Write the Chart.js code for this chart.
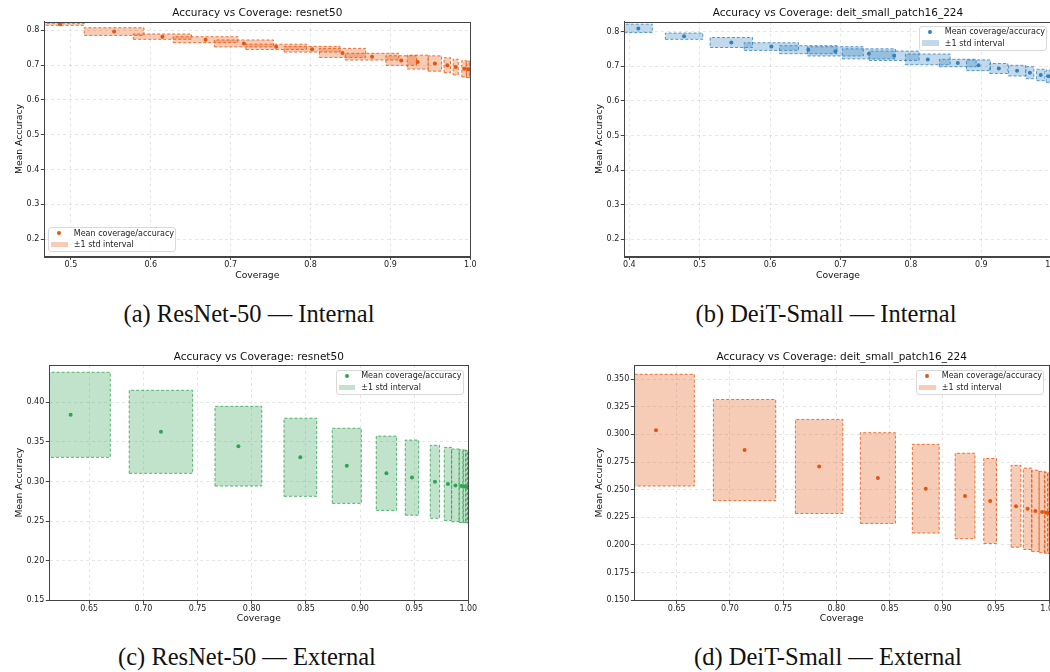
<!DOCTYPE html>
<html><head><meta charset="utf-8">
<script src="https://cdn.jsdelivr.net/npm/chart.js@4.4.1/dist/chart.umd.min.js"></script>
<style>
html,body{margin:0;padding:0;width:1050px;height:672px;overflow:hidden;background:#fff;position:relative;}
canvas{position:absolute;}
.cap{position:absolute;font-family:"Liberation Serif","Times New Roman",serif;font-size:24.5px;white-space:nowrap;transform:translate(-50%,-50%);color:#111;line-height:1;}
.leg{position:absolute;border:1px solid #d9d9d9;border-radius:3px;background:rgba(255,255,255,0.85);box-sizing:border-box;}
.lt{position:absolute;font-family:"DejaVu Sans",sans-serif;font-size:8px;color:#222;white-space:nowrap;line-height:1;transform:translateY(-50%);}
.ld{position:absolute;width:4px;height:4px;border-radius:50%;transform:translate(-50%,-50%);}
.lp{position:absolute;}
</style></head>
<body>
<script>
// ---------- Data ----------
// (a) ResNet-50 internal
const A_COV    = [0.4863,0.5540,0.6145,0.6685,0.7165,0.7569,0.8019,0.8400,0.8770,0.9135,0.9341,0.9556,0.9712,0.9817,0.9924,0.9973,0.9995];
const A_COV_SD = [0.0304,0.0374,0.0365,0.0405,0.0370,0.0380,0.0350,0.0290,0.0336,0.0192,0.0131,0.0084,0.0040,0.0032,0.0030,0.0025,0.0008];
const A_ACC    = [0.8172,0.7963,0.7817,0.7730,0.7622,0.7525,0.7456,0.7350,0.7242,0.7130,0.7085,0.7045,0.6995,0.6943,0.6894,0.6878,0.6870];
const A_ACC_SD = [0.0030,0.0110,0.0077,0.0086,0.0100,0.0076,0.0082,0.0130,0.0097,0.0138,0.0200,0.0220,0.0216,0.0226,0.0234,0.0235,0.0235];
// (b) DeiT-Small internal
const B_COV    = [0.4128,0.4778,0.5449,0.6018,0.6542,0.6928,0.7403,0.7761,0.8240,0.8666,0.8960,0.9249,0.9508,0.9690,0.9844,0.9951,0.9990];
const B_COV_SD = [0.0199,0.0266,0.0301,0.0386,0.0408,0.0396,0.0377,0.0356,0.0318,0.0261,0.0170,0.0128,0.0121,0.0057,0.0059,0.0030,0.0009];
const B_ACC    = [0.8095,0.7870,0.7688,0.7570,0.7480,0.7432,0.7360,0.7305,0.7200,0.7095,0.7030,0.6937,0.6874,0.6815,0.6749,0.6715,0.6710];
const B_ACC_SD = [0.0122,0.0091,0.0145,0.0110,0.0116,0.0134,0.0145,0.0135,0.0155,0.0107,0.0155,0.0145,0.0155,0.0173,0.0165,0.0180,0.0180];
// (c) ResNet-50 external
const C_COV    = [0.6328,0.7162,0.7877,0.8449,0.8878,0.9244,0.9480,0.9692,0.9812,0.9881,0.9935,0.9965,0.9985,0.9997];
const C_COV_SD = [0.0366,0.0293,0.0216,0.0151,0.0134,0.0094,0.0062,0.0043,0.0034,0.0035,0.0020,0.0015,0.0010,0.0003];
const C_ACC    = [0.3842,0.3627,0.3446,0.3306,0.3198,0.3104,0.3049,0.2996,0.2970,0.2951,0.2943,0.2938,0.2935,0.2934];
const C_ACC_SD = [0.0537,0.0524,0.0503,0.0493,0.0474,0.0469,0.0474,0.0461,0.0461,0.0459,0.0460,0.0458,0.0457,0.0457];
// (d) DeiT-Small external
const D_COV    = [0.6305,0.7137,0.7838,0.8390,0.8840,0.9209,0.9445,0.9688,0.9797,0.9870,0.9933,0.9970,0.9993];
const D_COV_SD = [0.0360,0.0293,0.0223,0.0165,0.0126,0.0093,0.0060,0.0046,0.0040,0.0035,0.0027,0.0015,0.0007];
const D_ACC    = [0.3038,0.2858,0.2710,0.2605,0.2509,0.2443,0.2398,0.2350,0.2327,0.2308,0.2298,0.2292,0.2290];
const D_ACC_SD = [0.0505,0.0457,0.0425,0.0410,0.0401,0.0386,0.0384,0.0370,0.0368,0.0368,0.0368,0.0366,0.0366];
// Tick values
const AB_X_TICKS = [0.5,0.6,0.7,0.8,0.9,1.0];
const B_X_TICKS  = [0.4,0.5,0.6,0.7,0.8,0.9,1.0];
const AB_Y_TICKS = [0.2,0.3,0.4,0.5,0.6,0.7,0.8];
const CD_X_TICKS = [0.65,0.70,0.75,0.80,0.85,0.90,0.95,1.00];
const C_Y_TICKS  = [0.15,0.20,0.25,0.30,0.35,0.40];
const D_Y_TICKS  = [0.150,0.175,0.200,0.225,0.250,0.275,0.300,0.325,0.350];
const TITLES = ['Accuracy vs Coverage: resnet50','Accuracy vs Coverage: deit_small_patch16_224'];
const LEGEND_LABELS = ['Mean coverage/accuracy','\u00b11 std interval'];
const CAPTIONS = ['(a) ResNet-50 \u2014 Internal','(b) DeiT-Small \u2014 Internal','(c) ResNet-50 \u2014 External','(d) DeiT-Small \u2014 External'];

// ---------- Styling ----------
const COLORS = {
  orange:{pt:'#e6550d', fill:'rgba(230,85,13,0.3)', edge:'rgba(230,85,13,0.8)'},
  blue:{pt:'#3182bd', fill:'rgba(49,130,189,0.3)', edge:'rgba(49,130,189,0.8)'},
  green:{pt:'#31a354', fill:'rgba(49,163,84,0.3)', edge:'rgba(49,163,84,0.8)'}
};
const FONT = 'DejaVu Sans';
const frame = {
  id:'frame',
  afterDatasetsDraw(chart){
    const a = chart.chartArea, ctx = chart.ctx;
    ctx.save(); ctx.strokeStyle='#444'; ctx.lineWidth=1;
    ctx.strokeRect(Math.round(a.left)+0.5, Math.round(a.top)+0.5, Math.round(a.right-a.left), Math.round(a.bottom-a.top));
    ctx.restore();
  }
};

function makePanel(p){
  const cv = document.createElement('canvas');
  cv.width = p.w; cv.height = p.h;
  cv.style.left = p.left+'px'; cv.style.top = p.top+'px';
  cv.style.width = p.w+'px'; cv.style.height = p.h+'px';
  document.body.appendChild(cv);
  const col = COLORS[p.color];
  const datasets = [{
    data: p.cov.map((c,i)=>({x:c, y:p.acc[i]})),
    showLine:false, pointRadius:2, pointBackgroundColor:col.pt, pointBorderWidth:0, pointHoverRadius:2, clip:0, order:0
  }];
  p.cov.forEach((c,i)=>{
    const s = p.covSd[i], a = p.acc[i], t = p.accSd[i];
    datasets.push({
      data:[{x:c-s,y:a-t},{x:c+s,y:a-t},{x:c+s,y:a+t},{x:c-s,y:a+t},{x:c-s,y:a-t}],
      showLine:true, fill:'shape', backgroundColor:col.fill, borderColor:col.edge,
      borderWidth:1, borderDash:[3,2], pointRadius:0, pointHoverRadius:0, tension:0, clip:0, order:1
    });
  });
  const tickFont = {family:FONT, size:8};
  const labFont = {family:FONT, size:9.2};
  new Chart(cv, {
    type:'scatter',
    data:{datasets},
    options:{
      responsive:false, animation:false, events:[], devicePixelRatio:1,
      layout:{padding:{left:0,right:p.padR,top:0,bottom:0}},
      plugins:{
        legend:{display:false}, tooltip:{enabled:false},
        title:{display:true, text:p.title, fullSize:false, color:'#111',
          font:{family:FONT, size:10.5, weight:'normal'}, padding:{top:p.tTop, bottom:p.tBot}}
      },
      scales:{
        x:{type:'linear', min:p.xmin, max:p.xmax,
          afterBuildTicks:s=>{s.ticks = p.xticks.map(v=>({value:v}));},
          afterFit:s=>{s.height = p.xH;},
          ticks:{font:tickFont, color:'#222', padding:0.5, maxRotation:0, autoSkip:false,
            callback:v=>Number(v).toFixed(p.xDec)},
          grid:{color:'rgba(0,0,0,0.13)', lineWidth:0.8, tickColor:'#444', tickLength:3.5, tickWidth:1},
          border:{display:true, color:'#444', width:1, dash:[3,3]},
          title:{display:true, text:'Coverage', color:'#111', font:labFont, padding:{top:0,bottom:p.xTitlePad}}
        },
        y:{type:'linear', min:p.ymin, max:p.ymax,
          afterBuildTicks:s=>{s.ticks = p.yticks.map(v=>({value:v}));},
          afterFit:s=>{s.width = p.yW;},
          ticks:{font:tickFont, color:'#222', padding:1.5, autoSkip:false,
            callback:v=>Number(v).toFixed(p.yDec)},
          grid:{color:'rgba(0,0,0,0.13)', lineWidth:0.8, tickColor:'#444', tickLength:3.5, tickWidth:1},
          border:{display:true, color:'#444', width:1, dash:[3,3]},
          title:{display:true, text:'Mean Accuracy', color:'#111', font:labFont, padding:{top:14.3,bottom:0}}
        }
      }
    },
    plugins:[frame]
  });
  // legend (matplotlib-style, inside axes)
  const bx = p.leg[0], by = p.leg[1];
  const box = document.createElement('div'); box.className='leg';
  box.style.left=bx+'px'; box.style.top=by+'px'; box.style.width='128px'; box.style.height='25px';
  document.body.appendChild(box);
  const dot = document.createElement('div'); dot.className='ld'; dot.style.background=col.pt;
  dot.style.left=(bx+11)+'px'; dot.style.top=(by+6)+'px'; document.body.appendChild(dot);
  const patch = document.createElement('div'); patch.className='lp';
  patch.style.left=(bx+3)+'px'; patch.style.top=(by+14.5)+'px'; patch.style.width='16.7px'; patch.style.height='5.7px';
  patch.style.background=col.fill; document.body.appendChild(patch);
  [[LEGEND_LABELS[0],6.3],[LEGEND_LABELS[1],17.8]].forEach(([t,dy])=>{
    const d=document.createElement('div'); d.className='lt'; d.textContent=t;
    d.style.left=(bx+25.5)+'px'; d.style.top=(by+dy)+'px'; document.body.appendChild(d);
  });
}

makePanel({left:0,top:0,w:480,h:290,padR:9.7,yW:44.3,xH:33.7,tTop:6.7,tBot:2.4,xTitlePad:8.5,
  title:TITLES[0],color:'orange',cov:A_COV,covSd:A_COV_SD,acc:A_ACC,accSd:A_ACC_SD,
  xmin:0.4666,xmax:1.0,ymin:0.1503,ymax:0.8247,xticks:AB_X_TICKS,yticks:AB_Y_TICKS,xDec:1,yDec:1,leg:[48.3,227.3]});
makePanel({left:580,top:0,w:490,h:290,padR:18.3,yW:44.3,xH:33.7,tTop:6.7,tBot:2.4,xTitlePad:8.5,
  title:TITLES[1],color:'blue',cov:B_COV,covSd:B_COV_SD,acc:B_ACC,accSd:B_ACC_SD,
  xmin:0.3929,xmax:1.0,ymin:0.1509,ymax:0.8289,xticks:B_X_TICKS,yticks:AB_Y_TICKS,xDec:1,yDec:1,leg:[919.3,25.7]});
makePanel({left:0,top:340,w:480,h:300,padR:11.7,yW:49.3,xH:39.7,tTop:10.7,tBot:1.7,xTitlePad:15.5,
  title:TITLES[0],color:'green',cov:C_COV,covSd:C_COV_SD,acc:C_ACC,accSd:C_ACC_SD,
  xmin:0.6131,xmax:1.0,ymin:0.15,ymax:0.4471,xticks:CD_X_TICKS,yticks:C_Y_TICKS,xDec:2,yDec:2,leg:[335.7,370]});
makePanel({left:580,top:340,w:490,h:300,padR:20.8,yW:54.3,xH:39.7,tTop:10.7,tBot:1.7,xTitlePad:15.5,
  title:TITLES[1],color:'orange',cov:D_COV,covSd:D_COV_SD,acc:D_ACC,accSd:D_ACC_SD,
  xmin:0.6101,xmax:1.0,ymin:0.15,ymax:0.3627,xticks:CD_X_TICKS,yticks:D_Y_TICKS,xDec:2,yDec:3,leg:[916.3,370]});

const CAP_POS = [[249,314],[826,314],[247,657],[828,657]];
CAPTIONS.forEach((t,i)=>{
  const d=document.createElement('div'); d.className='cap'; d.textContent=t;
  d.style.left=CAP_POS[i][0]+'px'; d.style.top=CAP_POS[i][1]+'px'; document.body.appendChild(d);
});
</script>
</body></html>
